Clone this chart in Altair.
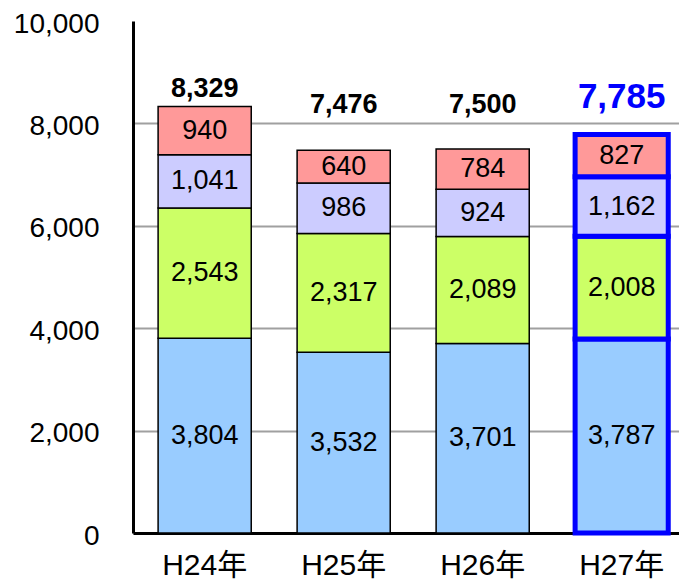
import altair as alt
import pandas as pd

years = ["H24年", "H25年", "H26年", "H27年"]
segments = ["区分1", "区分2", "区分3", "区分4"]  # bottom -> top
seg_colors = ["#99CCFF", "#CCFF66", "#CCCCFF", "#FF9999"]
seg1 = [3804, 3532, 3701, 3787]
seg2 = [2543, 2317, 2089, 2008]
seg3 = [1041, 986, 924, 1162]
seg4 = [940, 640, 784, 827]
totals = [8329, 7476, 7500, 7785]
y_ticks = [0, 2000, 4000, 6000, 8000, 10000]

FONT = "Liberation Sans, Noto Sans CJK JP, sans-serif"

rows = []
for i, y in enumerate(years):
    for k, (seg, vals) in enumerate(zip(segments, [seg1, seg2, seg3, seg4])):
        rows.append({"year": y, "segment": seg, "order": k, "value": vals[i]})
df = pd.DataFrame(rows)
tot_df = pd.DataFrame({"year": years, "total": totals})

x_scale = alt.Scale(paddingInner=0.33, paddingOuter=0.129, align=0.70)
y_scale = alt.Scale(domain=[0, 10000], nice=False)

x_axis = alt.Axis(
    title=None, labelAngle=0, ticks=False, labelPadding=17,
    labelFontSize=30, labelFont=FONT, labelColor="black",
    domainColor="black", domainWidth=3, grid=False,
)
y_axis = alt.Axis(
    title=None, values=y_ticks, format=",.0f", ticks=False, labelPadding=34,
    labelFontSize=28, labelFont=FONT, labelColor="black",
    labelBaseline="middle", labelOffset=3,
    domainColor="black", domainWidth=3, grid=True,
    gridColor={"condition": {"test": "datum.value === 10000", "value": "transparent"},
               "value": "#A0A0A0"},
    gridWidth=2,
)


def X():
    return alt.X("year:N", sort=years, scale=x_scale, axis=x_axis)


def Y(field):
    return alt.Y(field, scale=y_scale, axis=y_axis)


base = alt.Chart(df).transform_stack(
    stack="value", groupby=["year"], sort=[alt.SortField("order")], as_=["v0", "v1"]
).transform_calculate(mid="(datum.v0 + datum.v1) / 2")

bars = base.mark_bar().encode(
    x=X(),
    y=Y("v0:Q"),
    y2="v1:Q",
    color=alt.Color("segment:N", scale=alt.Scale(domain=segments, range=seg_colors), legend=None),
    stroke=alt.condition(alt.datum.year == "H27年", alt.value("#0000FF"), alt.value("black")),
    strokeWidth=alt.condition(alt.datum.year == "H27年", alt.value(5), alt.value(1.5)),
)

seg_labels = base.mark_text(fontSize=27, font=FONT, color="black", baseline="middle").encode(
    x=X(),
    y=Y("mid:Q"),
    text=alt.Text("value:Q", format=","),
)

tot_base = alt.Chart(tot_df).transform_calculate(anchor="max(datum.total, 8000)")

tot_labels = tot_base.transform_filter(alt.datum.year != "H27年").mark_text(
    fontSize=27, fontWeight="bold", font=FONT, color="black", baseline="alphabetic", dy=-10
).encode(
    x=X(),
    y=Y("anchor:Q"),
    text=alt.Text("total:Q", format=","),
)

tot_label_last = tot_base.transform_filter(alt.datum.year == "H27年").mark_text(
    fontSize=35, fontWeight="bold", font=FONT, color="#0000FF", baseline="alphabetic", dy=-15
).encode(
    x=X(),
    y=Y("anchor:Q"),
    text=alt.Text("total:Q", format=","),
)

chart = alt.layer(bars, seg_labels, tot_labels, tot_label_last).properties(
    width=546,
    height=512,
    autosize=alt.AutoSizeParams(type="none"),
    padding={"left": 125, "top": 13, "right": 0, "bottom": 49},
    background="white",
).configure_view(stroke=None)

chart.save("out.html", embed_options={"renderer": "svg", "actions": False})
